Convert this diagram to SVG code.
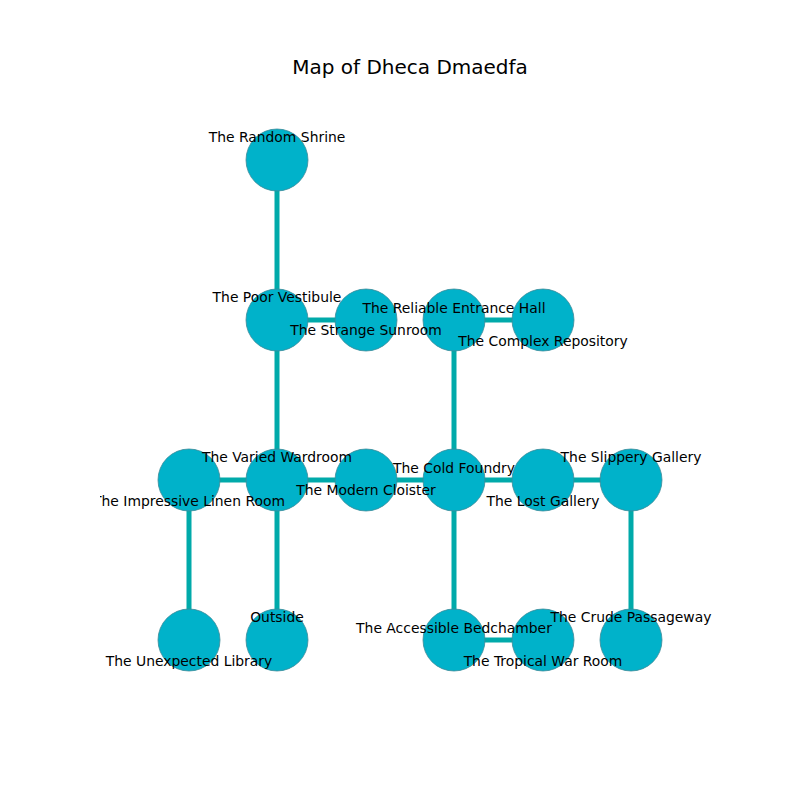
<svg xmlns="http://www.w3.org/2000/svg" width="800" height="800" viewBox="0 0 800 800">
<style>
.n{fill:#00b2ca;stroke:#3c8a98;stroke-width:0.8}
.e{stroke:#00aaaa;stroke-width:5;fill:none}
.l{font-family:"DejaVu Sans",sans-serif;font-size:13.9px;fill:#000;text-anchor:middle}
.t{font-family:"DejaVu Sans",sans-serif;font-size:20px;fill:#000;text-anchor:middle}
</style>
<defs><clipPath id="ax"><rect x="100" y="96" width="620" height="616"/></clipPath></defs>
<rect width="800" height="800" fill="#fff"/>
<text class="t" x="410" y="74">Map of Dheca Dmaedfa</text>
<g id="connectors">
<line class="e" x1="277" y1="160" x2="277" y2="320"/>
<line class="e" x1="277" y1="320" x2="366" y2="320"/>
<line class="e" x1="454" y1="320" x2="543" y2="320"/>
<line class="e" x1="277" y1="320" x2="277" y2="480"/>
<line class="e" x1="454" y1="320" x2="454" y2="480"/>
<line class="e" x1="189" y1="480" x2="631" y2="480"/>
<line class="e" x1="189" y1="480" x2="189" y2="640"/>
<line class="e" x1="277" y1="480" x2="277" y2="640"/>
<line class="e" x1="454" y1="480" x2="454" y2="640"/>
<line class="e" x1="454" y1="640" x2="543" y2="640"/>
<line class="e" x1="631" y1="480" x2="631" y2="640"/>
</g>
<g id="n1"><circle class="n" cx="277" cy="160" r="31"/></g>
<g id="n2"><circle class="n" cx="277" cy="320" r="31"/></g>
<g id="n3"><circle class="n" cx="366" cy="320" r="31"/></g>
<g id="n4"><circle class="n" cx="454" cy="320" r="31"/></g>
<g id="n5"><circle class="n" cx="543" cy="320" r="31"/></g>
<g id="n6"><circle class="n" cx="189" cy="480" r="31"/></g>
<g id="n7"><circle class="n" cx="277" cy="480" r="31"/></g>
<g id="n8"><circle class="n" cx="366" cy="480" r="31"/></g>
<g id="n9"><circle class="n" cx="454" cy="480" r="31"/></g>
<g id="n10"><circle class="n" cx="543" cy="480" r="31"/></g>
<g id="n11"><circle class="n" cx="631" cy="480" r="31"/></g>
<g id="n12"><circle class="n" cx="189" cy="640" r="31"/></g>
<g id="n13"><circle class="n" cx="277" cy="640" r="31"/></g>
<g id="n14"><circle class="n" cx="454" cy="640" r="31"/></g>
<g id="n15"><circle class="n" cx="543" cy="640" r="31"/></g>
<g id="n16"><circle class="n" cx="631" cy="640" r="31"/></g>
<g id="labels" clip-path="url(#ax)">
<text class="l" x="277" y="142">The Random Shrine</text>
<text class="l" x="277" y="302">The Poor Vestibule</text>
<text class="l" x="366" y="335">The Strange Sunroom</text>
<text class="l" x="454" y="313">The Reliable Entrance Hall</text>
<text class="l" x="543" y="346">The Complex Repository</text>
<text class="l" x="277" y="462">The Varied Wardroom</text>
<text class="l" x="189" y="506">The Impressive Linen Room</text>
<text class="l" x="366" y="495">The Modern Cloister</text>
<text class="l" x="454" y="473">The Cold Foundry</text>
<text class="l" x="543" y="506">The Lost Gallery</text>
<text class="l" x="631" y="462">The Slippery Gallery</text>
<text class="l" x="189" y="666">The Unexpected Library</text>
<text class="l" x="277" y="622">Outside</text>
<text class="l" x="454" y="633">The Accessible Bedchamber</text>
<text class="l" x="543" y="666">The Tropical War Room</text>
<text class="l" x="631" y="622">The Crude Passageway</text>
</g>
</svg>
